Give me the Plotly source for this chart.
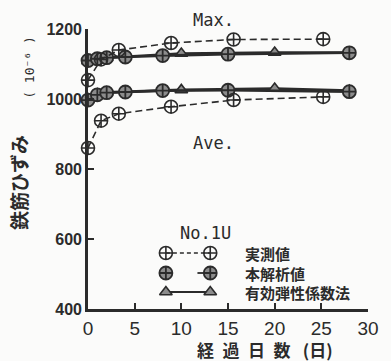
import plotly.graph_objects as go

# Measured rebar strain (実測値), dashed line
days_meas = [0, 1.4, 3.3, 8.9, 15.6, 25.2]
meas_max = [1054, 1113, 1140, 1160, 1170, 1171]
meas_ave = [860, 938, 958, 978, 997, 1006]

# Proposed analysis (本解析値), solid line
days_anal = [0, 1, 2, 4, 8, 15, 28]
anal_max = [1110, 1115, 1118, 1120, 1124, 1128, 1132]
anal_ave = [997, 1012, 1018, 1020, 1024, 1025, 1021]

# Effective elastic modulus method (有効弾性係数法), solid line
days_eem = [0, 1, 2, 10, 20, 28]
eem_max = [1108, 1114, 1118, 1130, 1133, 1133]
eem_ave = [1000, 1014, 1019, 1026, 1030, 1024]

x_ticks = [0, 5, 10, 15, 20, 25, 30]
y_ticks = [400, 600, 800, 1000, 1200]

series_names = ["実測値", "本解析値", "有効弾性係数法"]

INK = "#2b2b2b"
BG = "#fbfbfa"

# plot-area geometry in pixels
W_FIG, H_FIG = 391, 361
L, R, T, B = 88, 19, 29, 52
PW = W_FIG - L - R
PH = H_FIG - T - B


def px(x):
    return (x - L) / PW


def py(y):
    return (H_FIG - B - y) / PH


meas_marker = dict(symbol="circle-cross-open", size=13, color=INK, line=dict(width=1.6, color=INK))
anal_marker = dict(symbol="circle-cross", size=13, color="#8c8c8c", line=dict(width=1.8, color=INK))
eem_marker = dict(symbol="triangle-up", size=11, color="#8c8c8c", line=dict(width=1.6, color=INK))

fig = go.Figure()

for xs, ys in [(days_eem, eem_max), (days_eem, eem_ave)]:
    fig.add_trace(go.Scatter(x=xs, y=ys, mode="lines+markers", marker=eem_marker,
                             line=dict(color=INK, width=2.6), cliponaxis=False, showlegend=False))
for xs, ys in [(days_anal, anal_max), (days_anal, anal_ave)]:
    fig.add_trace(go.Scatter(x=xs, y=ys, mode="lines+markers", marker=anal_marker,
                             line=dict(color=INK, width=2.6), cliponaxis=False, showlegend=False))
for xs, ys in [(days_meas, meas_max), (days_meas, meas_ave)]:
    fig.add_trace(go.Scatter(x=xs, y=ys, mode="lines+markers", marker=meas_marker,
                             line=dict(color=INK, width=1.6, dash="7px,4px"),
                             cliponaxis=False, showlegend=False))

# hand-drawn style key: symbol - line - symbol, on a pixel-mapped overlay
key_x0, key_x1 = 167, 212
key_rows = [253, 273, 292]
key_markers = [meas_marker, anal_marker, eem_marker]
key_lines = [dict(color=INK, width=1.4, dash="4px,3px"),
             dict(color=INK, width=1.8),
             dict(color=INK, width=1.8)]
key_starts = [key_x0, 199, key_x0]
for name, yk, mk, ln, xs in zip(series_names, key_rows, key_markers, key_lines, key_starts):
    fig.add_trace(go.Scatter(x=[xs, key_x1], y=[yk, yk], mode="lines", line=ln,
                             xaxis="x2", yaxis="y2", showlegend=False, hoverinfo="skip"))
    fig.add_trace(go.Scatter(x=[key_x0, key_x1], y=[yk, yk], mode="markers", marker=mk,
                             xaxis="x2", yaxis="y2", showlegend=False, hoverinfo="skip",
                             cliponaxis=False))
    fig.add_annotation(text=name, x=px(245), y=py(yk), xref="paper", yref="paper",
                       xanchor="left", yanchor="middle", showarrow=False,
                       font=dict(family="Noto Sans CJK JP", size=15, color=INK, weight="bold"))


def label(text, x, y, size, family, angle=0, weight="normal"):
    fig.add_annotation(text=text, x=px(x), y=py(y), xref="paper", yref="paper",
                       xanchor="center", yanchor="middle", textangle=angle, showarrow=False,
                       font=dict(family=family, size=size, color=INK, weight=weight))


label("No.1U", 207, 233, 17, "DejaVu Sans Mono")
label("Max.", 215, 20, 17, "DejaVu Sans Mono")
label("Ave.", 215, 143, 17, "DejaVu Sans Mono")

# axis titles
label("鉄筋ひずみ", 17, 183, 19, "Noto Sans CJK JP", angle=-90, weight="bold")
label("( 10⁻⁶ )", 29, 67, 13, "DejaVu Sans Mono", angle=-90)
label("経\u2002過\u2002日\u2002数\u2002 (日)", 268, 349, 17, "Noto Sans CJK JP", weight="bold")

fig.update_layout(
    width=W_FIG, height=H_FIG,
    margin=dict(l=L, r=R, t=T, b=B),
    paper_bgcolor=BG, plot_bgcolor="rgba(0,0,0,0)",
    xaxis=dict(range=[0, 30], tickvals=x_ticks, ticks="inside", ticklen=6, tickwidth=2,
               tickcolor=INK, showline=True, linewidth=2.6, linecolor=INK, showgrid=False,
               zeroline=False, ticklabelstandoff=0,
               tickfont=dict(family="Liberation Sans", size=19, color=INK)),
    yaxis=dict(range=[400, 1200], tickvals=y_ticks, ticks="inside", ticklen=6, tickwidth=2,
               tickcolor=INK, showline=True, linewidth=2.6, linecolor=INK, showgrid=False,
               zeroline=False, ticklabelstandoff=0,
               tickfont=dict(family="Liberation Sans", size=16, color=INK, weight="bold")),
    xaxis2=dict(domain=[0, 1], range=[L, L + PW], visible=False, anchor="y2"),
    yaxis2=dict(domain=[0, 1], range=[H_FIG - B, T], visible=False, anchor="x2"),
)

fig.write_html("out.html")
